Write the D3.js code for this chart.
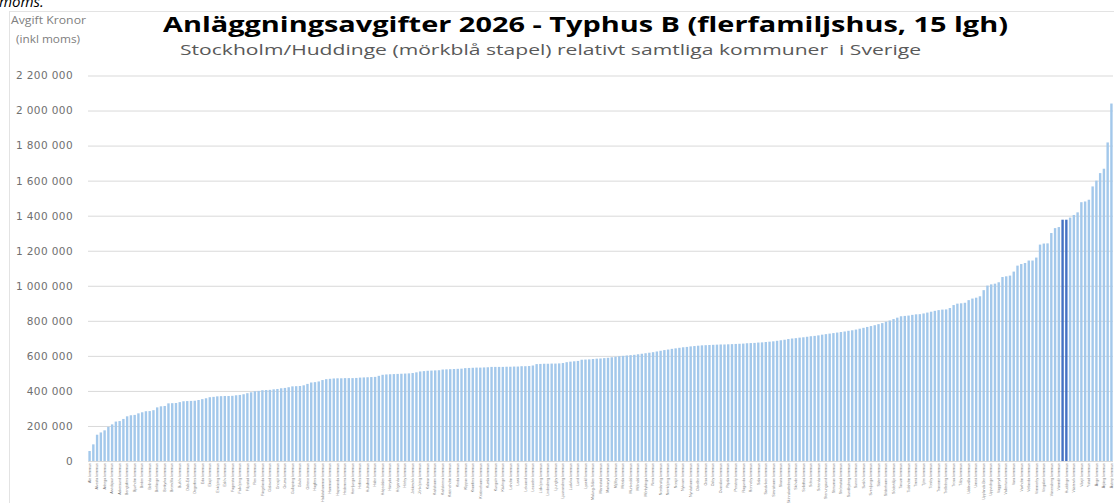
<!DOCTYPE html>
<html>
<head>
<meta charset="utf-8">
<script src="https://cdn.jsdelivr.net/npm/d3@7"></script>
<style>
  body { margin: 0; background: #fff; }
  svg { display: block; }
</style>
</head>
<body>
<div id="chart"></div>
<script>
// tick labels on the value axis
var yTicks = [0, 200000, 400000, 600000, 800000, 1000000, 1200000, 1400000, 1600000, 1800000, 2000000, 2200000];

// fee per municipality (kr incl. moms), sorted low -> high
var avgifter = [
  57000, 95000, 150000, 163000, 175000, 195000, 209000, 225000, 228000, 240000,
  255000, 261000, 263000, 272000, 278000, 284000, 285000, 290000, 306000, 312000,
  314000, 329000, 330000, 331000, 336000, 341000, 342000, 343000, 344000, 348000,
  353000, 358000, 364000, 366000, 369000, 370000, 371000, 371000, 372000, 375000,
  377000, 381000, 387000, 392000, 398000, 400000, 404000, 405000, 406000, 409000,
  411000, 415000, 417000, 421000, 426000, 427000, 428000, 432000, 440000, 448000,
  450000, 454000, 462000, 467000, 469000, 471000, 472000, 472000, 473000, 473000,
  473000, 474000, 476000, 477000, 478000, 479000, 480000, 486000, 492000, 494000,
  495000, 496000, 497000, 498000, 499000, 500000, 502000, 506000, 511000, 513000,
  515000, 516000, 517000, 518000, 522000, 523000, 524000, 525000, 526000, 527000,
  530000, 531000, 532000, 533000, 533000, 534000, 535000, 537000, 537000, 537000,
  537000, 538000, 538000, 539000, 539000, 541000, 541000, 542000, 545000, 553000,
  554000, 555000, 555000, 556000, 556000, 557000, 559000, 564000, 567000, 569000,
  571000, 578000, 579000, 580000, 582000, 584000, 585000, 587000, 589000, 592000,
  595000, 598000, 600000, 602000, 604000, 606000, 609000, 612000, 615000, 618000,
  621000, 625000, 629000, 633000, 636000, 640000, 643000, 646000, 649000, 651000,
  654000, 656000, 658000, 660000, 661000, 662000, 663000, 664000, 665000, 665000,
  666000, 667000, 668000, 669000, 670000, 672000, 673000, 674000, 676000, 677000,
  679000, 681000, 683000, 686000, 689000, 692000, 696000, 699000, 701000, 704000,
  706000, 709000, 712000, 714000, 717000, 721000, 724000, 727000, 730000, 733000,
  736000, 739000, 743000, 746000, 750000, 755000, 760000, 765000, 770000, 775000,
  781000, 787000, 795000, 802000, 810000, 818000, 826000, 828000, 830000, 834000,
  837000, 838000, 842000, 847000, 852000, 857000, 861000, 864000, 865000, 873000,
  890000, 898000, 900000, 903000, 918000, 927000, 932000, 940000, 975000, 1001000,
  1008000, 1012000, 1020000, 1050000, 1054000, 1058000, 1081000, 1115000, 1124000, 1130000,
  1144000, 1144000, 1161000, 1235000, 1241000, 1242000, 1301000, 1329000, 1335000, 1377000,
  1377000, 1389000, 1404000, 1419000, 1477000, 1481000, 1491000, 1567000, 1600000, 1643000,
  1668000, 1818000, 2040000
];

// the dark bars and where they sit in the sorted list
var markerade = ["Stockholms stad", "Huddinge kommun"];
var markeradPos = 259;

// the other municipalities (the label order is not legible in the source)
var kommuner = ["Ale", "Alingsås", "Alvesta", "Aneby", "Arboga", "Arjeplog", "Arvidsjaur", "Arvika", "Askersund", "Avesta",
  "Bengtsfors", "Berg", "Bjurholm", "Bjuv", "Boden", "Bollebygd", "Bollnäs", "Borgholm", "Borlänge", "Borås",
  "Botkyrka", "Boxholm", "Bromölla", "Bräcke", "Burlöv", "Båstad", "Dals-Ed", "Danderyd", "Degerfors", "Dorotea",
  "Eda", "Ekerö", "Eksjö", "Emmaboda", "Enköping", "Eskilstuna", "Eslöv", "Essunga", "Fagersta", "Falkenberg",
  "Falköping", "Falun", "Filipstad", "Finspång", "Flen", "Forshaga", "Färgelanda", "Gagnef", "Gislaved", "Gnesta",
  "Gnosjö", "Gotland", "Grums", "Grästorp", "Gullspång", "Gällivare", "Gävle", "Göteborg", "Götene", "Habo",
  "Hagfors", "Hallsberg", "Hallstahammar", "Halmstad", "Hammarö", "Haninge", "Haparanda", "Heby", "Hedemora", "Helsingborg",
  "Herrljunga", "Hjo", "Hofors", "Hudiksvall", "Hultsfred", "Hylte", "Håbo", "Hällefors", "Härjedalen", "Härnösand",
  "Härryda", "Hässleholm", "Höganäs", "Högsby", "Hörby", "Höör", "Jokkmokk", "Järfälla", "Jönköping", "Kalix",
  "Kalmar", "Karlsborg", "Karlshamn", "Karlskoga", "Karlskrona", "Karlstad", "Katrineholm", "Kil", "Kinda", "Kiruna",
  "Klippan", "Knivsta", "Kramfors", "Kristianstad", "Kristinehamn", "Krokom", "Kumla", "Kungsbacka", "Kungsör", "Kungälv",
  "Kävlinge", "Köping", "Laholm", "Landskrona", "Laxå", "Lekeberg", "Leksand", "Lerum", "Lessebo", "Lidingö",
  "Lidköping", "Lilla Edet", "Lindesberg", "Linköping", "Ljungby", "Ljusdal", "Ljusnarsberg", "Lomma", "Ludvika", "Luleå",
  "Lund", "Lycksele", "Lysekil", "Malmö", "Malung-Sälen", "Malå", "Mariestad", "Mark", "Markaryd", "Mellerud",
  "Mjölby", "Mora", "Motala", "Mullsjö", "Munkedal", "Munkfors", "Mölndal", "Mönsterås", "Mörbylånga", "Nacka",
  "Nora", "Norberg", "Nordanstig", "Nordmaling", "Norrköping", "Norrtälje", "Norsjö", "Nybro", "Nykvarn", "Nyköping",
  "Nynäshamn", "Nässjö", "Ockelbo", "Olofström", "Orsa", "Orust", "Osby", "Oskarshamn", "Ovanåker", "Oxelösund",
  "Pajala", "Partille", "Perstorp", "Piteå", "Ragunda", "Robertsfors", "Ronneby", "Rättvik", "Sala", "Salem",
  "Sandviken", "Sigtuna", "Simrishamn", "Sjöbo", "Skara", "Skellefteå", "Skinnskatteberg", "Skurup", "Skövde", "Smedjebacken",
  "Sollefteå", "Sollentuna", "Solna", "Sorsele", "Sotenäs", "Staffanstorp", "Stenungsund", "Storfors", "Storuman", "Strängnäs",
  "Strömstad", "Strömsund", "Sundbyberg", "Sundsvall", "Sunne", "Surahammar", "Svalöv", "Svedala", "Svenljunga", "Säffle",
  "Säter", "Sävsjö", "Söderhamn", "Söderköping", "Södertälje", "Sölvesborg", "Tanum", "Tibro", "Tidaholm", "Tierp",
  "Timrå", "Tingsryd", "Tjörn", "Tomelilla", "Torsby", "Torsås", "Tranemo", "Tranås", "Trelleborg", "Trollhättan",
  "Trosa", "Tyresö", "Täby", "Töreboda", "Uddevalla", "Ulricehamn", "Umeå", "Upplands Väsby", "Upplands-Bro", "Uppsala",
  "Uppvidinge", "Vadstena", "Vaggeryd", "Valdemarsvik", "Vallentuna", "Vansbro", "Vara", "Varberg", "Vaxholm", "Vellinge",
  "Vetlanda", "Vilhelmina", "Vimmerby", "Vindeln", "Vingåker", "Vårgårda", "Vänersborg", "Vännäs", "Värmdö", "Värnamo",
  "Västervik", "Västerås", "Växjö", "Ydre", "Ystad", "Åmål", "Ånge", "Åre", "Årjäng", "Åsele", "Åstorp"];

var width = 1114, height = 503;
var x0 = 88, x1 = 1113, yBase = 461, yTop = 75.5;

// names in bar order, dark bars spliced in at their place
var categories = kommuner.slice(0, markeradPos).map(function (k) { return k + " kommun"; })
  .concat(markerade)
  .concat(kommuner.slice(markeradPos).map(function (k) { return k + " kommun"; }))
  .slice(0, avgifter.length);

var data = avgifter.map(function (v, i) { return { idx: i, namn: categories[i], avgift: v }; });

var svg = d3.select("#chart")
  .append("svg")
  .attr("width", width)
  .attr("height", height);

// frame round the chart
svg.append("rect")
  .attr("x", 9.5).attr("y", 11.5)
  .attr("width", 1130).attr("height", 600)
  .style("fill", "none")
  .style("stroke", "#e3e3e3");

// cut-off text from above the chart
svg.append("text")
  .attr("x", -1).attr("y", 7)
  .style("font-family", "Open Sans")
  .style("font-style", "italic")
  .style("font-size", "15px")
  .style("fill", "#000")
  .text("moms.");

var x = d3.scaleBand()
  .domain(d3.range(data.length))
  .range([x0, x1])
  .paddingInner(0.36)
  .paddingOuter(0.1);

var y = d3.scaleLinear()
  .domain([0, 2200000])
  .range([yBase, yTop]);

var sv = d3.formatLocale({ decimal: ",", thousands: "\u00a0", grouping: [3], currency: ["", " kr"] });

// value axis + gridlines
var yAxis = svg.append("g")
  .attr("transform", "translate(" + x0 + ",0)")
  .call(d3.axisLeft(y).tickValues(yTicks).tickSize(-(x1 - x0)).tickPadding(15).tickFormat(sv.format(",")));
yAxis.select(".domain").remove();
yAxis.selectAll("line").style("stroke", "#d9d9d9");
yAxis.selectAll("text")
  .style("font-family", "DejaVu Sans")
  .style("font-size", "10.5px")
  .style("letter-spacing", "0.4px")
  .style("fill", "#707070");

// bars
svg.append("g")
  .selectAll("rect")
  .data(data)
  .join("rect")
  .attr("x", function (d) { return x(d.idx); })
  .attr("y", function (d) { return y(d.avgift); })
  .attr("width", x.bandwidth())
  .attr("height", function (d) { return yBase - y(d.avgift); })
  .style("fill", function (d) { return markerade.indexOf(d.namn) >= 0 ? "#4472c4" : "#a3c8eb"; });

// category labels, every other bar
svg.append("g")
  .selectAll("text")
  .data(data.filter(function (d) { return d.idx % 2 === 0; }))
  .join("text")
  .attr("transform", function (d) { return "translate(" + (x(d.idx) + x.bandwidth() / 2) + "," + (yBase + 2) + ") rotate(-90)"; })
  .attr("text-anchor", "end")
  .attr("dy", "0.35em")
  .style("font-family", "Liberation Sans")
  .style("font-size", "3.6px")
  .style("fill", "#767676")
  .text(function (d) { return d.namn; });

// axis title (top left)
svg.append("text")
  .attr("x", 11).attr("y", 24)
  .attr("textLength", 75).attr("lengthAdjust", "spacingAndGlyphs")
  .style("font-family", "Open Sans")
  .style("font-size", "10.5px")
  .style("fill", "#808080")
  .text("Avgift Kronor");
svg.append("text")
  .attr("x", 16).attr("y", 43)
  .attr("textLength", 64).attr("lengthAdjust", "spacingAndGlyphs")
  .style("font-family", "Open Sans")
  .style("font-size", "10.5px")
  .style("fill", "#808080")
  .text("(inkl moms)");

// title and subtitle
svg.append("text")
  .attr("x", 163).attr("y", 32)
  .attr("textLength", 845).attr("lengthAdjust", "spacingAndGlyphs")
  .style("font-family", "Open Sans")
  .style("font-weight", "bold")
  .style("font-size", "21px")
  .style("fill", "#000")
  .text("Anläggningsavgifter 2026 - Typhus B (flerfamiljshus, 15 lgh)");
svg.append("text")
  .attr("x", 180).attr("y", 55)
  .attr("textLength", 741).attr("lengthAdjust", "spacingAndGlyphs")
  .style("font-family", "Open Sans")
  .style("font-size", "15px")
  .style("white-space", "pre")
  .style("fill", "#595959")
  .text("Stockholm/Huddinge (mörkblå stapel) relativt samtliga kommuner  i Sverige");
</script>
</body>
</html>
